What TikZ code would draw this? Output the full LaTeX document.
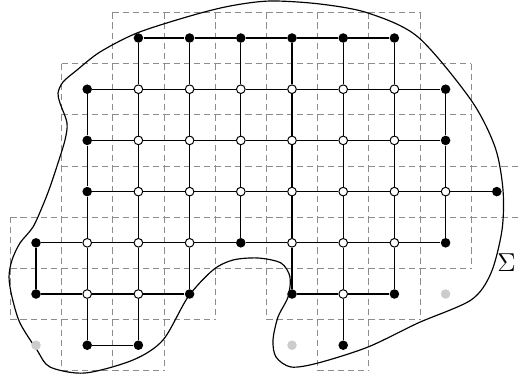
\documentclass[tikz,border=0pt]{standalone}
\begin{document}
\begin{tikzpicture}[x=0.019531cm,y=-0.019531cm,
  blk/.style={circle,fill=black,inner sep=0pt,minimum size=5.3pt},
  wht/.style={circle,draw=black,fill=white,line width=0.55pt,inner sep=0pt,minimum size=4.8pt},
  gry/.style={circle,fill=black!20,inner sep=0pt,minimum size=5.3pt},
  cellline/.style={draw=black!45,line width=0.55pt,dash pattern=on 3.4pt off 2.2pt},
  edgeline/.style={draw=black,line width=0.6pt},
  region/.style={draw=black,line width=0.65pt}]
\useasboundingbox (0,0) rectangle (518,384);
% dashed cells
\foreach \i/\j in {2/0,3/0,4/0,5/0,6/0,7/0,
  1/1,2/1,3/1,4/1,5/1,6/1,7/1,8/1,
  1/2,2/2,3/2,4/2,5/2,6/2,7/2,8/2,
  1/3,2/3,3/3,4/3,5/3,6/3,7/3,8/3,9/3,
  0/4,1/4,2/4,3/4,4/4,5/4,6/4,7/4,8/4,
  0/5,1/5,2/5,3/5,5/5,6/5,7/5,
  1/6,2/6,6/6}{
  \pgfmathsetmacro\xl{36+51.2*\i-25.6}
  \pgfmathsetmacro\xr{36+51.2*\i+25.6}
  \pgfmathsetmacro\yt{38+51.2*\j-25.6}
  \pgfmathsetmacro\yb{38+51.2*\j+25.6}
  \draw[cellline] (\xl,\yt) -- (\xr,\yt);
  \draw[cellline] (\xl,\yb) -- (\xr,\yb);
  \draw[cellline] (\xl,\yt) -- (\xl,\yb);
  \draw[cellline] (\xr,\yt) -- (\xr,\yb);
}
% region
\draw[region] plot[smooth cycle, tension=0.5] coordinates {
(270,1) (320,4) (368,13) (418,37) (471,100) (495,147) (503,190) (502,230)
(491,273) (471,300) (418,323) (368,347) (318,363) (291,367) (276,357)
(273,340) (278,317) (288,297) (290,277) (281,263) (258,258) (233,260)
(213,270) (188,297) (163,340) (133,360) (85,373) (50,367) (37,350)
(20,323) (12,297) (9,277) (12,260) (20,243) (33,227) (43,205) (50,187)
(58,163) (65,140) (67,123) (60,103) (58,93) (63,82) (77,70) (100,52)
(137,33) (190,16) (230,6)};
% nodes
\foreach \i/\j/\s in {2/0/blk,3/0/blk,4/0/blk,5/0/blk,6/0/blk,7/0/blk,
  1/1/blk,2/1/wht,3/1/wht,4/1/wht,5/1/wht,6/1/wht,7/1/wht,8/1/blk,
  1/2/blk,2/2/wht,3/2/wht,4/2/wht,5/2/wht,6/2/wht,7/2/wht,8/2/blk,
  1/3/blk,2/3/wht,3/3/wht,4/3/wht,5/3/wht,6/3/wht,7/3/wht,8/3/wht,9/3/blk,
  0/4/blk,1/4/wht,2/4/wht,3/4/wht,4/4/blk,5/4/wht,6/4/wht,7/4/wht,8/4/blk,
  0/5/blk,1/5/wht,2/5/wht,3/5/blk,5/5/blk,6/5/wht,7/5/blk,8/5/gry,
  0/6/gry,1/6/blk,2/6/blk,5/6/gry,6/6/blk}{
  \node[\s] (n-\i-\j) at ({36+51.2*\i},{38+51.2*\j}) {};
}
% horizontal edges
\foreach \j/\a/\b in {0/2/6,1/1/7,2/1/7,3/1/8,4/0/7,5/0/2,5/5/6,6/1/1}{
  \foreach \i in {\a,...,\b}{
    \pgfmathtruncatemacro\k{\i+1}
    \draw[edgeline] (n-\i-\j) -- (n-\k-\j);
  }
}
% vertical edges
\foreach \j/\a/\b in {0/2/7,1/1/8,2/1/8,3/1/8,4/0/3,4/5/7,5/1/2,5/6/6}{
  \foreach \i in {\a,...,\b}{
    \pgfmathtruncatemacro\k{\j+1}
    \draw[edgeline] (n-\i-\j) -- (n-\i-\k);
  }
}
\node[inner sep=0pt] (sigma) at (506.5,263) {\fontsize{15.5}{18}\selectfont$\Sigma$};
\end{tikzpicture}
\end{document}
